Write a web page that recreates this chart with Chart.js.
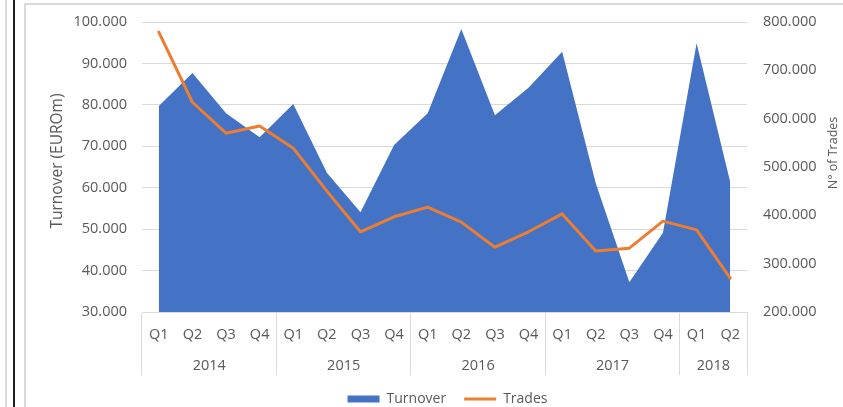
<!DOCTYPE html>
<html>
<head>
<meta charset="utf-8">
<script src="https://cdn.jsdelivr.net/npm/chart.js@4.4.1/dist/chart.umd.min.js"></script>
<style>
  html, body { margin: 0; padding: 0; background: #fff; width: 843px; height: 407px; overflow: hidden; }
  #trait1 { position: absolute; left: 5px; top: 0; width: 2px; height: 407px; background: #dcdcdc; }
  #trait2 { position: absolute; left: 13px; top: 0; width: 2px; height: 407px; background: #1e1e1e; }
  #cadre { position: absolute; left: 24px; top: 3px; width: 840px; height: 430px; border-left: 2px solid #d9d9d9; border-top: 2px solid #d9d9d9; }
  #zone { position: absolute; left: 26px; top: 5px; width: 817px; height: 411px; }
</style>
</head>
<body>
<div id="trait1"></div>
<div id="trait2"></div>
<div id="cadre"></div>
<div id="zone"><canvas id="graphique"></canvas></div>
<script>
/* Turnover / Trades par trimestre 2014-2018 */

const trimestres = ["Q1","Q2","Q3","Q4","Q1","Q2","Q3","Q4","Q1","Q2","Q3","Q4","Q1","Q2","Q3","Q4","Q1","Q2"];
const annees = ["2014", "2015", "2016", "2017", "2018"];
const trimestresParAnnee = [4, 4, 4, 4, 2];

const turnover = [79700, 87700, 78000, 72200, 80200, 63600, 54100, 70300, 78000,
                  98300, 77500, 84100, 92800, 61100, 37200, 49100, 94900, 61400];
const trades = [779000, 634000, 570000, 585000, 539000, 450000, 366000, 397000, 417000,
                386000, 334000, 366000, 403000, 326000, 332000, 388000, 370000, 270000];

const gris = "#595959";
const grille = "#d9d9d9";
const police = "'Open Sans', sans-serif";

// centres des années et limites entre années (en nombre de trimestres)
const centresAnnees = [];
const limites = [0];
let cumul = 0;
trimestresParAnnee.forEach(function(n) {
  centresAnnees.push(cumul + n / 2);
  cumul += n;
  limites.push(cumul);
});

function formatMilliers(v) {
  return Math.round(v).toString().replace(/\B(?=(\d{3})+(?!\d))/g, ".");
}

function titreVertical(ctx, texte, x, y, taille) {
  ctx.save();
  ctx.translate(x, y);
  ctx.rotate(-Math.PI / 2);
  ctx.font = taille + "px " + police;
  ctx.fillStyle = gris;
  ctx.textAlign = "center";
  ctx.textBaseline = "middle";
  ctx.fillText(texte, 0, 0);
  ctx.restore();
}

const titresAxes = {
  id: "titresAxes",
  afterDraw: function(chart) {
    const g = chart.scales.y;
    const d = chart.scales.y2;
    const milieu = (g.top + g.bottom) / 2;
    titreVertical(chart.ctx, "Turnover (EUROm)", g.right - 84, milieu - 6, 15.5);
    titreVertical(chart.ctx, "N° of Trades", d.right - 10, milieu - 14, 12.5);
  }
};

function sansMarge(s) {
  s.paddingTop = 0;
  s.paddingBottom = 0;
}

new Chart(document.getElementById("graphique").getContext("2d"), {
  type: "line",
  data: {
    labels: trimestres,
    datasets: [
      {
        label: "Turnover",
        data: turnover,
        yAxisID: "y",
        fill: "start",
        backgroundColor: "#4472c4",
        borderColor: "rgba(0,0,0,0)",
        borderWidth: 0,
        tension: 0,
        pointRadius: 0,
        pointStyle: "rect",
        pointBackgroundColor: "#4472c4",
        pointBorderWidth: 0,
        order: 2
      },
      {
        label: "Trades",
        data: trades,
        yAxisID: "y2",
        fill: false,
        borderColor: "#ed7d31",
        borderWidth: 3,
        borderCapStyle: "round",
        borderJoinStyle: "round",
        tension: 0,
        pointRadius: 0,
        pointStyle: "line",
        pointBorderColor: "#ed7d31",
        pointBorderWidth: 3,
        order: 1
      }
    ]
  },
  options: {
    responsive: true,
    maintainAspectRatio: false,
    animation: false,
    layout: { padding: { top: 17, left: 26, right: 0, bottom: 0 } },
    plugins: {
      legend: {
        position: "bottom",
        labels: {
          usePointStyle: true,
          pointStyleWidth: 32,
          boxHeight: 7,
          padding: 18,
          color: gris,
          font: { size: 14, family: police },
          sort: function(a, b) { return a.datasetIndex - b.datasetIndex; }
        }
      },
      tooltip: { enabled: false }
    },
    scales: {
      x: {
        type: "category",
        position: "bottom",
        weight: 1,
        offset: true,
        grid: {
          offset: true,
          drawOnChartArea: false,
          tickLength: 63,
          color: function(c) {
            return (c.index === undefined || limites.indexOf(c.index) >= 0) ? grille : "rgba(0,0,0,0)";
          }
        },
        border: { display: true, color: grille },
        ticks: { color: gris, font: { size: 14.5, family: police }, padding: -49, maxRotation: 0, autoSkip: false },
        afterFit: function(s) { s.height = 32; }
      },
      x2: {
        type: "linear",
        position: "bottom",
        weight: 2,
        min: 0,
        max: trimestres.length,
        grid: { display: false, drawTicks: false, tickLength: 0 },
        border: { display: false },
        afterBuildTicks: function(s) { s.ticks = centresAnnees.map(function(v) { return { value: v }; }); },
        ticks: {
          color: gris,
          font: { size: 14.5, family: police },
          padding: 13,
          maxRotation: 0,
          autoSkip: false,
          callback: function(v, i) { return annees[i]; }
        },
        afterFit: function(s) { s.height = 30; }
      },
      y: {
        position: "left",
        min: 30000,
        max: 100000,
        grid: { color: grille, drawTicks: false },
        border: { display: false },
        ticks: { stepSize: 10000, color: gris, font: { size: 14.5, family: police }, padding: 15, callback: formatMilliers },
        afterFit: function(s) { s.width = 90; sansMarge(s); }
      },
      y2: {
        position: "right",
        min: 200000,
        max: 800000,
        grid: { display: false, drawOnChartArea: false, drawTicks: false },
        border: { display: false },
        ticks: { stepSize: 100000, color: gris, font: { size: 14.5, family: police }, padding: 16, callback: formatMilliers },
        afterFit: function(s) { s.width = 96; sansMarge(s); }
      }
    }
  },
  plugins: [titresAxes]
});
</script>
</body>
</html>
